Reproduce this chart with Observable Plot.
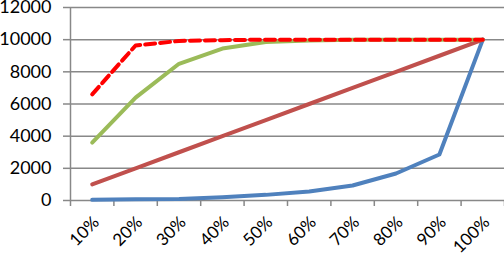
<!DOCTYPE html>
<html><head><meta charset="utf-8">
<script src="https://cdn.jsdelivr.net/npm/d3@7"></script>
<script src="https://cdn.jsdelivr.net/npm/@observablehq/plot@0.6"></script>
<style>body{margin:0;background:#fff;} svg{display:block;}</style>
</head><body><div id="chart"></div>
<script>
const categories = ["10%","20%","30%","40%","50%","60%","70%","80%","90%","100%"];
const blue = [40, 70, 100, 200, 350, 560, 930, 1680, 2860, 10000];
const red = [1000, 2000, 3000, 4000, 5000, 6000, 7000, 8000, 9000, 10000];
const green = [3600, 6400, 8500, 9450, 9850, 9950, 10000, 10000, 10000, 10000];
const dashed = [6600, 9640, 9920, 9970, 10000, 10000, 10000, 10000, 10000, 10000];
const yTicks = [0, 2000, 4000, 6000, 8000, 10000, 12000];

const idx = categories.map((c, i) => i + 1);
const bounds = d3.range(0.5, categories.length + 1, 1);
const mk = (vals) => vals.map((v, i) => ({x: i + 1, y: v}));
const grid = "#888888";

const chart = Plot.plot({
  width: 504, height: 259,
  marginLeft: 70, marginRight: 0, marginTop: 7, marginBottom: 59,
  style: {fontFamily: "Lato", fontSize: "18px", color: "#000", background: "#fff"},
  x: {type: "linear", domain: [0.5, categories.length + 0.5]},
  y: {type: "linear", domain: [0, 12000]},
  marks: [
    Plot.ruleY(yTicks, {x1: 0.5, x2: categories.length + 0.5, stroke: grid, strokeWidth: 1.5}),
    Plot.ruleX([0.5], {y1: 0, y2: 12000, stroke: grid, strokeWidth: 1.5}),
    Plot.axisY({ticks: yTicks, tickSize: 7, tickPadding: 12, stroke: grid, strokeWidth: 1.5, label: null, tickFormat: d => String(d), fill: "#000"}),
    Plot.ruleX(bounds, {x: d => d, y1: 0, y2: 0, insetBottom: -6, stroke: grid, strokeWidth: 1.5}),
    Plot.axisX({ticks: idx, tickSize: 0, tickPadding: 19, dx: 4, fontSize: 17, tickRotate: -45, tickFormat: d => categories[d - 1], label: null, fill: "#000"}),
    Plot.line(mk(blue), {x: "x", y: "y", stroke: "#4F81BD", strokeWidth: 4}),
    Plot.line(mk(red), {x: "x", y: "y", stroke: "#C0504D", strokeWidth: 4}),
    Plot.line(mk(green), {x: "x", y: "y", stroke: "#9BBB59", strokeWidth: 4}),
    Plot.line(mk(dashed), {x: "x", y: "y", stroke: "#FF0000", strokeWidth: 4, strokeDasharray: "10,5"})
  ]
});
document.getElementById("chart").append(chart);
</script></body></html>
